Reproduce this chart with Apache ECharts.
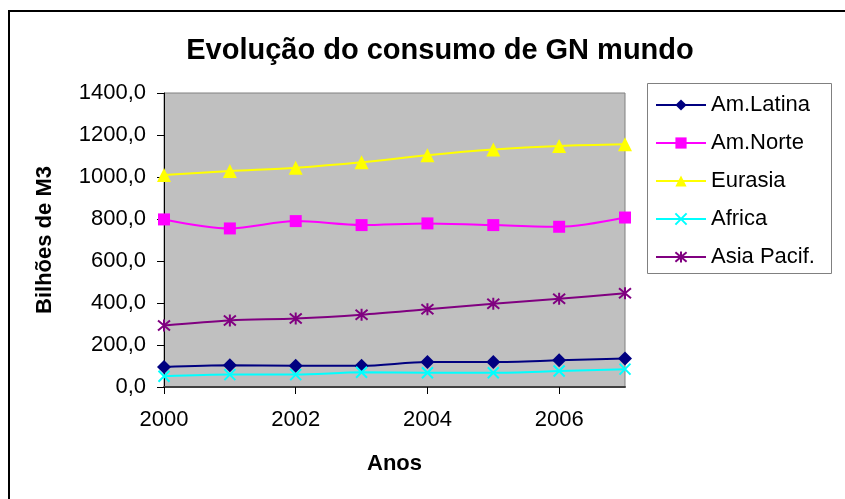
<!DOCTYPE html>
<html>
<head>
<meta charset="utf-8">
<script src="https://cdn.jsdelivr.net/npm/echarts@6/dist/echarts.min.js"></script>
<style>
html, body { margin: 0; padding: 0; background: #fff; }
#chart { width: 845px; height: 499px; }
</style>
</head>
<body>
<div id="chart"></div>
<script>
// anos e valores (bilhoes de m3)
var anos = ['2000', '2001', '2002', '2003', '2004', '2005', '2006', '2007'];
var amLatina = [95, 103, 101, 101, 119, 119, 127, 136];
var amNorte = [798, 755, 790, 771, 779, 771, 763, 807];
var eurasia = [1009, 1028, 1044, 1070, 1104, 1131, 1148, 1156];
var africa = [51, 59, 59, 70, 68, 68, 76, 85];
var asiaPacif = [293, 317, 326, 344, 370, 396, 420, 446];
var yTicks = [0, 200, 400, 600, 800, 1000, 1200, 1400];

var xSym = 'path://M0,0L10,10M10,0L0,10';
var starSym = 'path://M0,0L10,10M10,0L0,10M5,-1L5,11';

function serie(nome, dados, cor, simbolo, tam, traco) {
  return {
    name: nome,
    type: 'line',
    data: dados,
    smooth: 0.3,
    symbol: simbolo,
    symbolSize: tam,
    lineStyle: { color: cor, width: 2 },
    itemStyle: traco ? { color: 'rgba(0,0,0,0)', borderColor: cor, borderWidth: 2 } : { color: cor },
    emphasis: { disabled: true }
  };
}

var chart = echarts.init(document.getElementById('chart'));
chart.setOption({
  animation: false,
  textStyle: { fontFamily: 'Liberation Sans, Arial, sans-serif' },
  title: {
    text: 'Evolução do consumo de GN mundo',
    left: 435,
    textAlign: 'center',
    top: 31,
    textStyle: { fontSize: 29, fontWeight: 'bold', color: '#000' }
  },
  graphic: [
    { type: 'rect', shape: { x: 9, y: 11, width: 900, height: 600 }, style: { fill: 'none', stroke: '#000', lineWidth: 2 } },
    { type: 'rect', shape: { x: 647.5, y: 83.5, width: 184, height: 190 }, style: { fill: '#fff', stroke: '#808080', lineWidth: 1 } }
  ],
  legend: {
    orient: 'vertical',
    left: 647,
    top: 83,
    padding: [11, 10, 6, 8],
    itemGap: 16,
    itemWidth: 50,
    itemHeight: 14,
    textStyle: { fontSize: 22, color: '#000', lineHeight: 22 },
    data: ['Am.Latina', 'Am.Norte', 'Eurasia', 'Africa', 'Asia Pacif.']
  },
  grid: {
    left: 164,
    top: 93,
    right: 220,
    bottom: 112,
    show: true,
    backgroundColor: '#C0C0C0',
    borderColor: '#808080',
    borderWidth: 1
  },
  xAxis: {
    type: 'category',
    data: anos,
    boundaryGap: false,
    name: 'Anos',
    nameLocation: 'middle',
    nameGap: 66,
    nameTextStyle: { fontSize: 22, fontWeight: 'bold', color: '#000' },
    axisLine: { lineStyle: { color: '#404040', width: 2 } },
    axisTick: { interval: 1, length: 7, lineStyle: { color: '#000' } },
    axisLabel: { interval: 1, fontSize: 22, color: '#000', margin: 22 },
    splitLine: { show: false }
  },
  yAxis: {
    type: 'value',
    min: yTicks[0],
    max: yTicks[yTicks.length - 1],
    interval: 200,
    name: 'Bilhões de M3',
    nameLocation: 'middle',
    nameGap: 108,
    nameTextStyle: { fontSize: 22, fontWeight: 'bold', color: '#000' },
    axisLine: { show: true, lineStyle: { color: '#000', width: 1 } },
    axisTick: { show: true, length: 7, lineStyle: { color: '#000' } },
    axisLabel: {
      fontSize: 22,
      color: '#000',
      margin: 18,
      formatter: function (v) { return v.toFixed(1).replace('.', ','); }
    },
    splitLine: { show: false }
  },
  series: [
    serie('Am.Latina', amLatina, '#000080', 'diamond', 14, false),
    serie('Am.Norte', amNorte, '#FF00FF', 'rect', 12, false),
    serie('Eurasia', eurasia, '#FFFF00', 'triangle', 14, false),
    serie('Africa', africa, '#00FFFF', xSym, 11, true),
    serie('Asia Pacif.', asiaPacif, '#800080', starSym, 12, true)
  ]
});
</script>
</body>
</html>
